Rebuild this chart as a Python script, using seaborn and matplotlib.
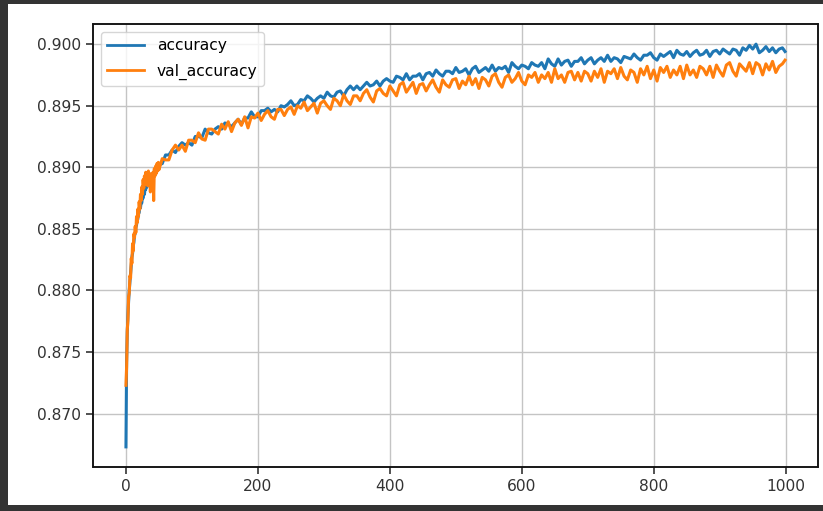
import matplotlib
matplotlib.use("Agg")
import matplotlib.pyplot as plt
import matplotlib.patches as mpatches
from matplotlib.lines import Line2D
import seaborn as sns
import pandas as pd

# ---- data ----
epochs = list(range(0, 50)) + list(range(50, 1000, 5)) + [999]

accuracy = [
    0.8673, 0.8742, 0.8766, 0.8780, 0.8791, 0.8800, 0.8807, 0.8815, 0.8820, 0.8827,
    0.8830, 0.8836, 0.8839, 0.8845, 0.8846, 0.8851, 0.8853, 0.8857, 0.8858, 0.8863,
    0.8863, 0.8868, 0.8867, 0.8872, 0.8871, 0.8876, 0.8875, 0.8879, 0.8878, 0.8883,
    0.8882, 0.8886, 0.8884, 0.8888, 0.8887, 0.8890, 0.8888, 0.8892, 0.8890, 0.8894,
    0.8892, 0.8895, 0.8893, 0.8897, 0.8895, 0.8898, 0.8896, 0.8900, 0.8898, 0.8901,
    0.8902, 0.8903, 0.8910, 0.8910, 0.8914, 0.8912, 0.8917, 0.8920, 0.8918, 0.8920,
    0.8918, 0.8925, 0.8925, 0.8924, 0.8931, 0.8928, 0.8927, 0.8931, 0.8933, 0.8931,
    0.8936, 0.8935, 0.8933, 0.8936, 0.8939, 0.8935, 0.8940, 0.8940, 0.8945, 0.8941,
    0.8941, 0.8946, 0.8946, 0.8948, 0.8945, 0.8947, 0.8945, 0.8950, 0.8949, 0.8951,
    0.8954, 0.8950, 0.8951, 0.8955, 0.8954, 0.8958, 0.8956, 0.8953, 0.8956, 0.8958,
    0.8956, 0.8961, 0.8958, 0.8957, 0.8961, 0.8962, 0.8958, 0.8963, 0.8966, 0.8963,
    0.8966, 0.8963, 0.8966, 0.8969, 0.8966, 0.8967, 0.8970, 0.8966, 0.8970, 0.8972,
    0.8970, 0.8969, 0.8974, 0.8973, 0.8971, 0.8976, 0.8971, 0.8974, 0.8974, 0.8976,
    0.8971, 0.8976, 0.8977, 0.8974, 0.8979, 0.8976, 0.8974, 0.8978, 0.8978, 0.8976,
    0.8981, 0.8977, 0.8978, 0.8980, 0.8975, 0.8980, 0.8982, 0.8977, 0.8979, 0.8981,
    0.8978, 0.8983, 0.8978, 0.8981, 0.8980, 0.8982, 0.8977, 0.8985, 0.8982, 0.8980,
    0.8983, 0.8982, 0.8980, 0.8985, 0.8983, 0.8982, 0.8985, 0.8980, 0.8988, 0.8984,
    0.8982, 0.8988, 0.8983, 0.8986, 0.8987, 0.8982, 0.8986, 0.8986, 0.8989, 0.8984,
    0.8987, 0.8989, 0.8984, 0.8987, 0.8989, 0.8986, 0.8991, 0.8986, 0.8989, 0.8988,
    0.8985, 0.8990, 0.8989, 0.8988, 0.8992, 0.8989, 0.8987, 0.8991, 0.8991, 0.8993,
    0.8989, 0.8987, 0.8992, 0.8990, 0.8992, 0.8994, 0.8989, 0.8995, 0.8992, 0.8991,
    0.8994, 0.8990, 0.8993, 0.8995, 0.8991, 0.8992, 0.8995, 0.8990, 0.8994, 0.8995,
    0.8992, 0.8996, 0.8994, 0.8992, 0.8996, 0.8995, 0.8991, 0.8997, 0.8995, 0.8999,
    0.8996, 0.9000, 0.8993, 0.8995, 0.8998, 0.8994, 0.8997, 0.8993, 0.8996, 0.8997,
    0.8994,
]

val_accuracy = [
    0.8723, 0.8738, 0.8768, 0.8776, 0.8795, 0.8798, 0.8812, 0.8810, 0.8826, 0.8822,
    0.8838, 0.8832, 0.8846, 0.8843, 0.8852, 0.8847, 0.8860, 0.8855, 0.8866, 0.8860,
    0.8872, 0.8866, 0.8878, 0.8873, 0.8884, 0.8878, 0.8890, 0.8883, 0.8893, 0.8886,
    0.8896, 0.8888, 0.8895, 0.8885, 0.8897, 0.8890, 0.8895, 0.8880, 0.8893, 0.8889,
    0.8892, 0.8896, 0.8873, 0.8899, 0.8893, 0.8901, 0.8895, 0.8903, 0.8897, 0.8904,
    0.8898, 0.8907, 0.8906, 0.8906, 0.8914, 0.8918, 0.8914, 0.8918, 0.8913, 0.8922,
    0.8922, 0.8920, 0.8928, 0.8923, 0.8922, 0.8931, 0.8931, 0.8929, 0.8927, 0.8935,
    0.8931, 0.8937, 0.8929, 0.8936, 0.8939, 0.8934, 0.8941, 0.8932, 0.8941, 0.8940,
    0.8944, 0.8938, 0.8943, 0.8946, 0.8941, 0.8939, 0.8947, 0.8947, 0.8942, 0.8947,
    0.8949, 0.8943, 0.8950, 0.8948, 0.8953, 0.8946, 0.8949, 0.8952, 0.8944, 0.8952,
    0.8954, 0.8950, 0.8947, 0.8956, 0.8954, 0.8950, 0.8959, 0.8954, 0.8951, 0.8958,
    0.8958, 0.8954, 0.8960, 0.8963, 0.8957, 0.8953, 0.8962, 0.8964, 0.8960, 0.8958,
    0.8966, 0.8962, 0.8958, 0.8967, 0.8969, 0.8961, 0.8965, 0.8969, 0.8960, 0.8967,
    0.8968, 0.8962, 0.8967, 0.8971, 0.8965, 0.8961, 0.8971, 0.8967, 0.8965, 0.8971,
    0.8972, 0.8964, 0.8970, 0.8967, 0.8974, 0.8967, 0.8972, 0.8964, 0.8973, 0.8971,
    0.8966, 0.8974, 0.8976, 0.8969, 0.8965, 0.8973, 0.8975, 0.8969, 0.8972, 0.8977,
    0.8970, 0.8967, 0.8975, 0.8973, 0.8977, 0.8969, 0.8975, 0.8972, 0.8977, 0.8969,
    0.8980, 0.8972, 0.8975, 0.8969, 0.8977, 0.8978, 0.8971, 0.8977, 0.8970, 0.8978,
    0.8976, 0.8970, 0.8978, 0.8973, 0.8980, 0.8969, 0.8978, 0.8976, 0.8980, 0.8972,
    0.8981, 0.8974, 0.8971, 0.8979, 0.8977, 0.8969, 0.8980, 0.8975, 0.8982, 0.8972,
    0.8979, 0.8970, 0.8981, 0.8977, 0.8982, 0.8973, 0.8979, 0.8975, 0.8982, 0.8972,
    0.8983, 0.8975, 0.8979, 0.8973, 0.8982, 0.8980, 0.8975, 0.8982, 0.8973, 0.8983,
    0.8978, 0.8974, 0.8983, 0.8985, 0.8978, 0.8974, 0.8984, 0.8981, 0.8978, 0.8985,
    0.8976, 0.8985, 0.8983, 0.8975, 0.8984, 0.8979, 0.8986, 0.8977, 0.8982, 0.8984,
    0.8987,
]

series_names = ["accuracy", "val_accuracy"]
series_colors = ["#1f77b4", "#ff7f0e"]

# ---- styling ----
plt.rcParams.update({
    "font.family": ["DejaVu Sans"],
    "font.size": 11.2,
    "axes.linewidth": 1.1,
    "axes.spines.top": True,
    "axes.spines.right": True,
    "axes.spines.left": True,
    "axes.spines.bottom": True,
    "axes.edgecolor": "#111111",
    "axes.facecolor": "white",
    "xtick.major.size": 5,
    "ytick.major.size": 5,
    "xtick.major.width": 1.1,
    "ytick.major.width": 1.1,
    "xtick.color": "#222222",
    "ytick.color": "#222222",
    "xtick.labelcolor": "#333333",
    "ytick.labelcolor": "#333333",
})

W, H = 823, 511
fig = plt.figure(figsize=(W / 100, H / 100), dpi=100)
fig.patch.set_facecolor("#333333")
# white panel of the notebook output cell (behind the axes)
fig.patches.append(mpatches.Rectangle((8 / W, 6 / H), 815 / W, 501 / H,
                                      transform=fig.transFigure,
                                      facecolor="white", edgecolor="none", zorder=-5))

ax = fig.add_axes([93 / W, 1 - 467 / H, (818 - 93) / W, (467 - 24) / H])
ax.set_zorder(1)

df = pd.DataFrame({
    "epoch": epochs * 2,
    "value": accuracy + val_accuracy,
    "series": [series_names[0]] * len(epochs) + [series_names[1]] * len(epochs),
})

sns.lineplot(data=df, x="epoch", y="value", hue="series",
             palette=dict(zip(series_names, series_colors)),
             linewidth=2.2, ax=ax, legend=False)

ax.set_xlabel("")
ax.set_ylabel("")
ax.grid(True, color="#c4c4c4", linewidth=1.0)
ax.set_axisbelow(True)
ax.tick_params(direction="out")
for side in ["left", "right", "top", "bottom"]:
    ax.spines[side].set_visible(True)
    ax.spines[side].set_color("#111111")
    ax.spines[side].set_linewidth(1.1)
# explicit frame around the plotting area
ax.add_patch(mpatches.Rectangle((0, 0), 1, 1, transform=ax.transAxes, fill=False,
                                edgecolor="#111111", linewidth=1.1,
                                clip_on=False, zorder=5))

handles = [Line2D([], [], color=c, linewidth=2.0) for c in series_colors]
leg = ax.legend(handles, series_names, loc="upper left", frameon=True,
                framealpha=0.8, fontsize=11.2, handlelength=2.4,
                labelspacing=0.7)

fig.savefig("out.png", dpi=100, facecolor=fig.get_facecolor())
